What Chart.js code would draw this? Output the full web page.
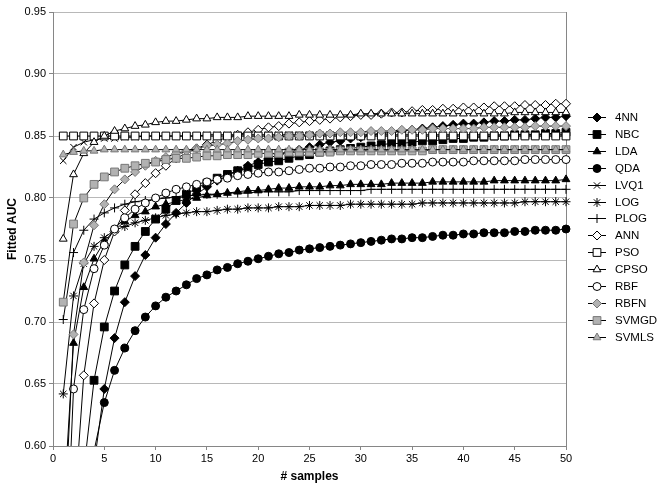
<!DOCTYPE html>
<html>
<head>
<meta charset="utf-8">
<script src="https://cdn.jsdelivr.net/npm/chart.js"></script>
<style>
  html, body { margin: 0; padding: 0; background: #fff; }
  #wrap { width: 661px; height: 492px; }
</style>
</head>
<body>
<div id="wrap"><canvas id="chart" width="661" height="492"></canvas></div>
<script>
// x values (number of samples)
const samples = [1,2,3,4,5,6,7,8,9,10,11,12,13,14,15,16,17,18,19,20,21,22,23,24,25,
  26,27,28,29,30,31,32,33,34,35,36,37,38,39,40,41,42,43,44,45,46,47,48,49,50];
const xTicks = [0,5,10,15,20,25,30,35,40,45,50];
const yTicks = [0.60,0.65,0.70,0.75,0.80,0.85,0.90,0.95];

const seriesNames = ["4NN","NBC","LDA","QDA","LVQ1","LOG","PLOG","ANN","PSO","CPSO","RBF","RBFN","SVMGD","SVMLS"];

// fitted AUC (null = below the 0.60 axis floor)
const knn4 = [null,null,null,0.585,0.646,0.687,0.716,0.737,0.754,0.768,0.779,0.788,0.796,0.803,0.809,0.814,0.818,0.822,0.826,0.829,
  0.832,0.835,0.837,0.839,0.841,0.843,0.845,0.846,0.848,0.849,0.851,0.852,0.853,0.854,0.855,0.856,0.857,0.858,0.859,0.860,
  0.860,0.861,0.862,0.862,0.863,0.863,0.864,0.865,0.865,0.866];
const nbc = [null,null,0.580,0.653,0.696,0.725,0.746,0.761,0.773,0.783,0.791,0.798,0.803,0.808,0.812,0.816,0.819,0.822,0.824,0.827,
  0.829,0.830,0.832,0.834,0.835,0.837,0.838,0.839,0.840,0.841,0.842,0.843,0.844,0.844,0.845,0.846,0.846,0.847,0.848,0.848,
  0.849,0.849,0.850,0.850,0.851,0.851,0.851,0.852,0.852,0.853];
const lda = [0.545,0.683,0.728,0.751,0.765,0.774,0.781,0.786,0.789,0.793,0.795,0.797,0.799,0.800,0.802,0.803,0.804,0.805,0.806,0.806,
  0.807,0.808,0.808,0.809,0.809,0.809,0.810,0.810,0.811,0.811,0.811,0.811,0.812,0.812,0.812,0.812,0.813,0.813,0.813,0.813,
  0.813,0.813,0.814,0.814,0.814,0.814,0.814,0.814,0.814,0.815];
const qda = [null,null,null,0.596,0.635,0.661,0.679,0.693,0.704,0.713,0.720,0.725,0.730,0.735,0.738,0.742,0.744,0.747,0.749,0.751,
  0.753,0.755,0.756,0.758,0.759,0.760,0.761,0.762,0.763,0.764,0.765,0.766,0.767,0.767,0.768,0.768,0.769,0.770,0.770,0.771,
  0.771,0.772,0.772,0.772,0.773,0.773,0.774,0.774,0.774,0.775];
const lvq1 = [0.830,0.841,0.845,0.847,0.848,0.848,0.849,0.849,0.850,0.850,0.850,0.850,0.850,0.850,0.851,0.851,0.851,0.851,0.851,0.851,
  0.851,0.851,0.851,0.851,0.851,0.851,0.851,0.851,0.851,0.851,0.851,0.851,0.851,0.851,0.851,0.851,0.851,0.851,0.851,0.851,
  0.851,0.851,0.851,0.851,0.851,0.851,0.851,0.851,0.851,0.851];
const logr = [0.642,0.721,0.747,0.761,0.768,0.774,0.777,0.780,0.782,0.784,0.786,0.787,0.788,0.789,0.789,0.790,0.791,0.791,0.792,0.792,
  0.792,0.793,0.793,0.793,0.794,0.794,0.794,0.794,0.795,0.795,0.795,0.795,0.795,0.795,0.795,0.796,0.796,0.796,0.796,0.796,
  0.796,0.796,0.796,0.796,0.796,0.797,0.797,0.797,0.797,0.797];
const plog = [0.702,0.756,0.774,0.783,0.788,0.792,0.795,0.797,0.798,0.799,0.800,0.801,0.802,0.802,0.803,0.803,0.804,0.804,0.804,0.805,
  0.805,0.805,0.805,0.806,0.806,0.806,0.806,0.806,0.806,0.806,0.807,0.807,0.807,0.807,0.807,0.807,0.807,0.807,0.807,0.807,
  0.807,0.807,0.807,0.807,0.807,0.807,0.807,0.807,0.807,0.807];
const ann = [null,0.540,0.657,0.715,0.750,0.773,0.790,0.803,0.812,0.820,0.826,0.832,0.836,0.840,0.843,0.846,0.849,0.851,0.853,0.855,
  0.857,0.858,0.860,0.861,0.862,0.863,0.864,0.865,0.866,0.867,0.867,0.868,0.869,0.869,0.870,0.871,0.871,0.872,0.872,0.873,
  0.873,0.873,0.874,0.874,0.874,0.875,0.875,0.875,0.876,0.876];
const pso = [0.850,0.850,0.850,0.850,0.850,0.850,0.850,0.850,0.850,0.850,0.850,0.850,0.850,0.850,0.850,0.850,0.850,0.850,0.850,0.850,
  0.850,0.850,0.850,0.850,0.850,0.850,0.850,0.850,0.850,0.850,0.850,0.850,0.850,0.850,0.850,0.850,0.850,0.850,0.850,0.850,
  0.850,0.850,0.850,0.850,0.850,0.850,0.850,0.850,0.850,0.850];
const cpso = [0.767,0.819,0.836,0.845,0.850,0.854,0.856,0.858,0.859,0.861,0.862,0.862,0.863,0.864,0.864,0.865,0.865,0.865,0.866,0.866,
  0.866,0.866,0.866,0.867,0.867,0.867,0.867,0.867,0.867,0.868,0.868,0.868,0.868,0.868,0.868,0.868,0.868,0.868,0.868,0.868,
  0.868,0.868,0.868,0.868,0.869,0.869,0.869,0.869,0.869,0.869];
const rbf = [0.453,0.646,0.710,0.743,0.762,0.775,0.784,0.791,0.796,0.800,0.804,0.807,0.809,0.811,0.813,0.815,0.816,0.818,0.819,0.820,
  0.821,0.821,0.822,0.823,0.824,0.824,0.825,0.825,0.826,0.826,0.827,0.827,0.827,0.828,0.828,0.828,0.829,0.829,0.829,0.829,
  0.830,0.830,0.830,0.830,0.830,0.831,0.831,0.831,0.831,0.831];
const rbfn = [0.515,0.690,0.748,0.778,0.795,0.807,0.815,0.821,0.826,0.830,0.833,0.836,0.838,0.840,0.842,0.843,0.844,0.846,0.847,0.848,
  0.848,0.849,0.850,0.850,0.851,0.852,0.852,0.853,0.853,0.853,0.854,0.854,0.854,0.855,0.855,0.855,0.856,0.856,0.856,0.856,
  0.856,0.857,0.857,0.857,0.857,0.857,0.858,0.858,0.858,0.858];
const svmgd = [0.716,0.779,0.800,0.811,0.817,0.821,0.824,0.826,0.828,0.829,0.831,0.832,0.832,0.833,0.834,0.834,0.835,0.835,0.835,0.836,
  0.836,0.836,0.837,0.837,0.837,0.837,0.837,0.838,0.838,0.838,0.838,0.838,0.838,0.838,0.838,0.838,0.839,0.839,0.839,0.839,
  0.839,0.839,0.839,0.839,0.839,0.839,0.839,0.839,0.839,0.839];
const svmls = [0.835,0.837,0.838,0.838,0.839,0.839,0.839,0.839,0.839,0.839,0.839,0.839,0.839,0.839,0.839,0.839,0.839,0.839,0.839,0.839,
  0.839,0.839,0.839,0.839,0.839,0.839,0.839,0.839,0.839,0.839,0.839,0.839,0.839,0.839,0.839,0.839,0.839,0.839,0.839,0.839,
  0.839,0.839,0.839,0.839,0.839,0.839,0.839,0.839,0.839,0.839];

const seriesValues = [knn4, nbc, lda, qda, lvq1, logr, plog, ann, pso, cpso, rbf, rbfn, svmgd, svmls];

// marker look per series, same order as seriesNames
const BLACK = "#000000", WHITE = "#ffffff", GREY = "#b2b2b2", GREY_EDGE = "#777777";
const markers = [
  { style: "rectRot",  r: 4.5, fill: BLACK, edge: BLACK },
  { style: "rect",     r: 5.5, fill: BLACK, edge: BLACK },
  { style: "triangle", r: 4.5, fill: BLACK, edge: BLACK },
  { style: "circle",   r: 4,   fill: BLACK, edge: BLACK },
  { style: "crossRot", r: 4.5, fill: BLACK, edge: BLACK },
  { style: "star",     r: 4.5, fill: BLACK, edge: BLACK },
  { style: "cross",    r: 4.5, fill: BLACK, edge: BLACK },
  { style: "rectRot",  r: 4.5, fill: WHITE, edge: BLACK },
  { style: "rect",     r: 5.5, fill: WHITE, edge: BLACK },
  { style: "triangle", r: 4.5, fill: WHITE, edge: BLACK },
  { style: "circle",   r: 4,   fill: WHITE, edge: BLACK },
  { style: "rectRot",  r: 4.5, fill: GREY,  edge: GREY_EDGE },
  { style: "rect",     r: 5.5, fill: GREY,  edge: GREY_EDGE },
  { style: "triangle", r: 4.5, fill: GREY,  edge: GREY_EDGE }
];

const FONT = '"Liberation Sans", Arial, sans-serif';
const GRID = "#b8b8b8";
const AXIS = "#868686";

const datasets = seriesNames.map((name, i) => ({
  label: name,
  data: seriesValues[i].map((v, j) => ({ x: samples[j], y: v })),
  borderColor: BLACK,
  borderWidth: 1,
  tension: 0,
  pointStyle: markers[i].style,
  pointRadius: markers[i].r,
  pointBackgroundColor: markers[i].fill,
  pointBorderColor: markers[i].edge,
  pointBorderWidth: 1,
  order: seriesNames.length - i,
  clip: { left: 0, top: 10, right: 10, bottom: 0 }
}));

// Excel-like legend: short line with the marker on it, then the name
const sideLegend = {
  id: "sideLegend",
  afterDraw(chart) {
    const ctx = chart.ctx;
    const x0 = 588, x1 = 606, tx = 615, top = 117, step = 16.9;
    chart.data.datasets.forEach((ds, i) => {
      const y = Math.round(top + i * step);
      ctx.save();
      ctx.strokeStyle = BLACK;
      ctx.lineWidth = 1;
      ctx.beginPath();
      ctx.moveTo(x0, y + 0.5);
      ctx.lineTo(x1, y + 0.5);
      ctx.stroke();
      ctx.fillStyle = ds.pointBackgroundColor;
      ctx.strokeStyle = ds.pointBorderColor;
      Chart.helpers.drawPoint(ctx, { pointStyle: ds.pointStyle, radius: ds.pointRadius, borderWidth: 1, rotation: 0 }, (x0 + x1) / 2, y + 0.5);
      ctx.fillStyle = BLACK;
      ctx.font = "11.5px " + FONT;
      ctx.textBaseline = "middle";
      ctx.textAlign = "left";
      ctx.fillText(ds.label, tx, y + 1);
      ctx.restore();
    });
  }
};

new Chart(document.getElementById("chart"), {
  type: "line",
  data: { datasets },
  plugins: [sideLegend],
  options: {
    responsive: false,
    animation: false,
    events: [],
    layout: { padding: { top: 12, right: 95, left: 0, bottom: 0 } },
    plugins: { legend: { display: false }, tooltip: { enabled: false } },
    scales: {
      x: {
        type: "linear",
        min: 0,
        max: 50,
        afterBuildTicks: (s) => { s.ticks = xTicks.map((v) => ({ value: v })); },
        afterFit: (s) => { s.height = 46; },
        ticks: { color: BLACK, font: { family: FONT, size: 11 }, padding: 2, maxRotation: 0 },
        grid: {
          color: (c) => (c.tick && c.tick.value === 50 ? AXIS : "rgba(0,0,0,0)"),
          tickColor: AXIS,
          tickLength: 4,
          drawOnChartArea: true
        },
        border: { color: AXIS, width: 1 },
        title: { display: true, text: "# samples", color: BLACK, font: { family: FONT, size: 12, weight: "bold" }, padding: { top: 0, bottom: 8 } }
      },
      y: {
        min: 0.6,
        max: 0.95,
        afterBuildTicks: (s) => { s.ticks = yTicks.map((v) => ({ value: v })); },
        afterFit: (s) => { s.width = 53; },
        ticks: { color: BLACK, font: { family: FONT, size: 11 }, padding: 3, callback: (v) => Number(v).toFixed(2) },
        grid: { color: GRID, tickColor: AXIS, tickLength: 4 },
        border: { color: AXIS, width: 1 },
        title: { display: true, text: "Fitted AUC", color: BLACK, font: { family: FONT, size: 12, weight: "bold" }, padding: { top: 5, bottom: 0 } }
      }
    }
  }
});
</script>
</body>
</html>
